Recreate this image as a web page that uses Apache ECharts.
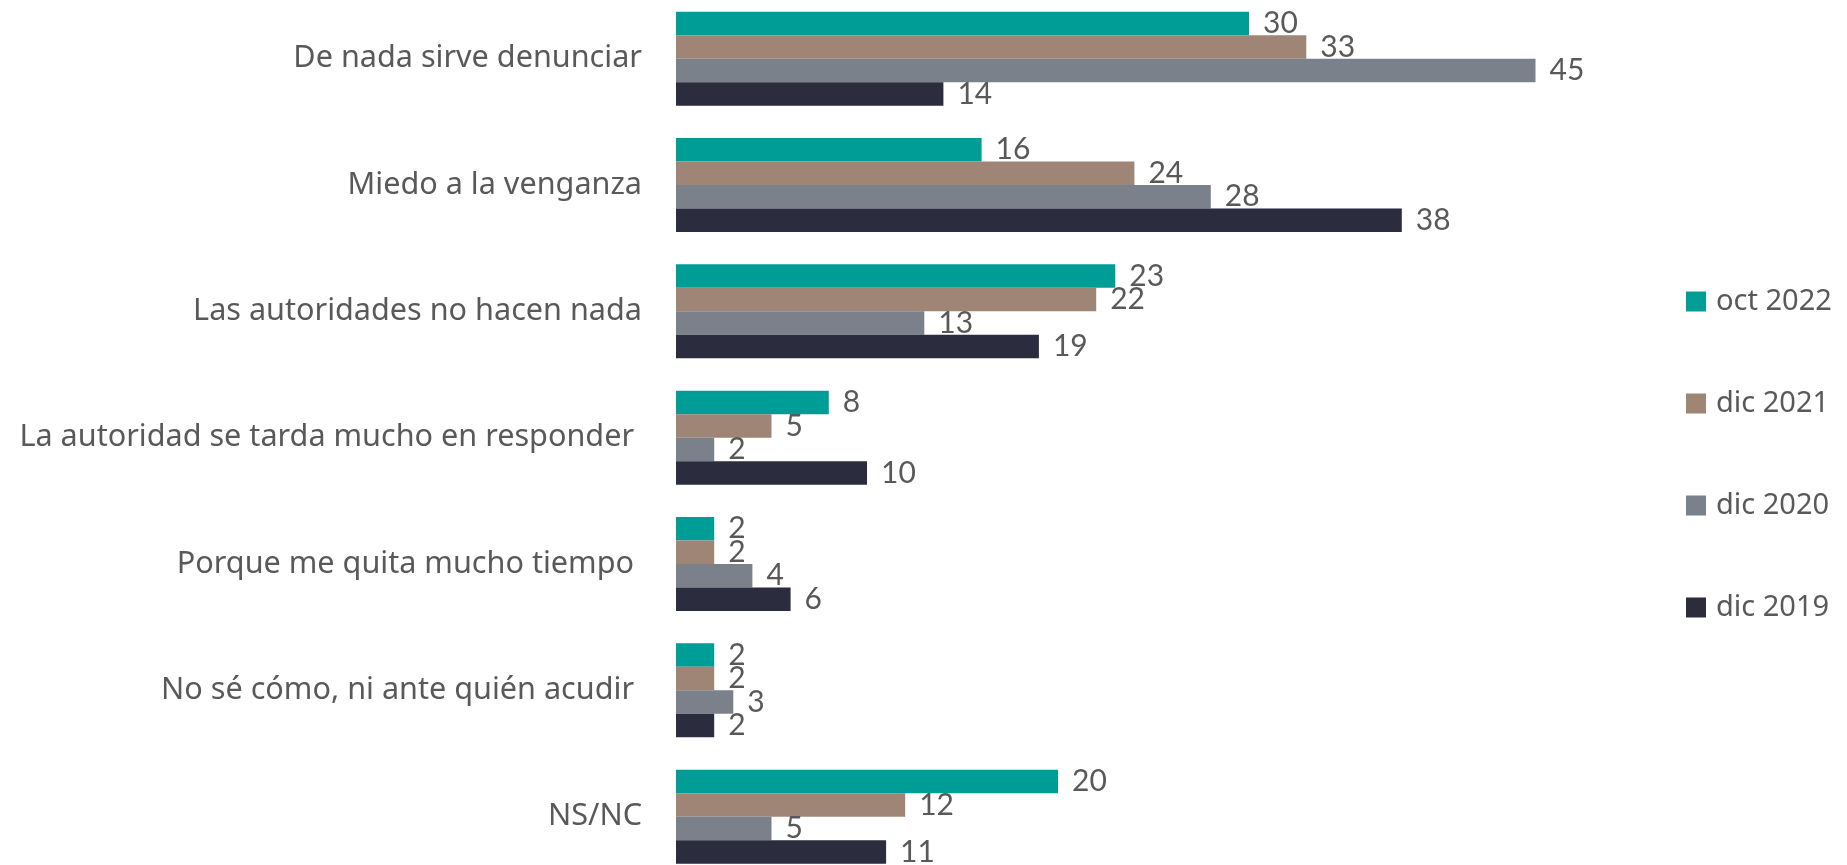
<!DOCTYPE html>
<html>
<head>
<meta charset="utf-8">
<script src="https://cdn.jsdelivr.net/npm/echarts@6/dist/echarts.min.js"></script>
<style>
  html, body { margin: 0; padding: 0; background: #fff; }
  #chart { width: 1847px; height: 865px; }
</style>
</head>
<body>
<div id="chart"></div>
<script>
// categorias (de arriba hacia abajo)
const categories = [
  'De nada sirve denunciar',
  'Miedo a la venganza',
  'Las autoridades no hacen nada',
  'La autoridad se tarda mucho en responder ',
  'Porque me quita mucho tiempo ',
  'No sé cómo, ni ante quién acudir ',
  'NS/NC'
]
const seriesNames = ['oct 2022', 'dic 2021', 'dic 2020', 'dic 2019']
const oct2022 = [30, 16, 23, 8, 2, 2, 20]
const dic2021 = [33, 24, 22, 5, 2, 2, 12]
const dic2020 = [45, 28, 13, 2, 4, 3, 5]
const dic2019 = [14, 38, 19, 10, 6, 2, 11]
const colors = ['#009D97', '#9F8575', '#7B818B', '#2B2C3D']

const chartInstance = echarts.init(document.getElementById('chart'))
const allValues = [oct2022, dic2021, dic2020, dic2019]

const series = allValues.map((vals, i) => {
  return {
    name: seriesNames[i],
    type: 'bar',
    data: vals,
    barGap: 0,
    barCategoryGap: '25.6%',
    itemStyle: { color: colors[i] },
    label: {
      show: true,
      position: 'right',
      distance: 14,
      color: '#595959',
      fontFamily: 'Lato',
      fontSize: 30
    }
  }
})

const option = {
  animation: false,
  color: colors,
  grid: {
    left: 676,
    top: -4.5,
    width: 955,
    height: 884.3,
    outerBoundsMode: 'none',
    containLabel: false
  },
  legend: {
    orient: 'vertical',
    left: 1686,
    top: 287,
    padding: 0,
    itemWidth: 20,
    itemHeight: 20,
    itemGap: 73,
    icon: 'rect',
    data: seriesNames,
    textStyle: {
      fontFamily: 'Noto Sans',
      fontSize: 29,
      lineHeight: 26,
      color: '#595959',
      padding: [0, 0, 0, 5]
    }
  },
  xAxis: {
    type: 'value',
    min: 0,
    max: 50,
    show: false
  },
  yAxis: {
    type: 'category',
    inverse: true,
    data: categories,
    axisLine: { show: false },
    axisTick: { show: false },
    axisLabel: {
      margin: 34,
      fontFamily: 'Noto Sans',
      fontSize: 30.6,
      color: '#595959'
    }
  },
  series: series
}

chartInstance.setOption(option)
</script>
</body>
</html>
